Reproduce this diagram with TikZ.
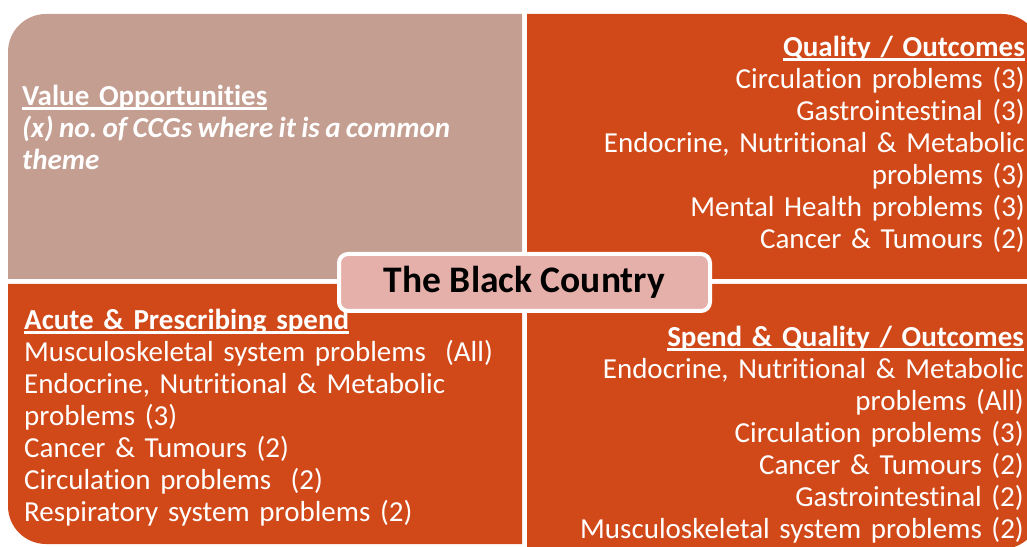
\documentclass[tikz,border=0pt]{standalone}
\usepackage{fontspec}
\setmainfont{Carlito}[Ligatures=CommonOff]
\usepackage{tikz}
\frenchspacing
\definecolor{valuebrown}{RGB}{196,158,145}
\definecolor{spendorange}{RGB}{209,73,25}
\definecolor{hubpink}{RGB}{230,176,170}
\newcommand{\ulhead}[1]{\setbox0\hbox{\bfseries #1}\rlap{\rule[-4pt]{\wd0}{2.5pt}}\box0}
\newcommand{\quadfont}{\fontsize{29}{32}\selectfont}
\tikzset{quadtext/.style={text=white, inner sep=0pt, font=\quadfont}}
\tikzset{hub/.style={draw=white, line width=4pt, fill=hubpink, rounded corners=9pt,
    minimum width=371pt, minimum height=57pt, inner sep=0pt, font=\fontsize{37.5}{40}\selectfont\bfseries}}

\begin{document}
\begin{tikzpicture}[x=1pt, y=1pt]
    \useasboundingbox (0,0) rectangle (1027,546);
    \clip (0,0) rectangle (1027,546);
    % four quadrants
    \fill[valuebrown] (8,267) -- (8,494) arc(180:90:38) -- (522,532) -- (522,267) -- cycle;
    \fill[spendorange] (527,267) -- (527,532) -- (1002,532) arc(90:0:38) -- (1040,267) -- cycle;
    \fill[spendorange] (522,262) -- (8,262) -- (8,40) arc(180:270:38) -- (522,2) -- cycle;
    \fill[spendorange] (527,262) -- (1040,262) -- (1040,35) arc(0:-90:38) -- (527,-3) -- cycle;
    % quadrant texts
    \node[quadtext, anchor=base west, text width=470pt, align=left] (value) at (22,440)
        {\ulhead{Value Opportunities}\\
         {\bfseries\itshape\spaceskip=5.4pt\relax (x) no. of CCGs where it is a common}\\
         \textbf{\textit{theme}}};
    \node[quadtext, anchor=base east, text width=470pt, align=right] (quality) at (1025,489)
        {\ulhead{Quality / Outcomes}\\
         Circulation problems (3)\\
         Gastrointestinal (3)\\
         Endocrine, Nutritional \& Metabolic\\
         problems (3)\\
         Mental Health problems (3)\\
         Cancer \& Tumours (2)};
    \node[quadtext, anchor=base west, text width=490pt, align=left] (spend) at (24,216)
        {\ulhead{Acute \& Prescribing spend}\\
         Musculoskeletal system problems\ \ (All)\\
         Endocrine, Nutritional \& Metabolic\\
         problems (3)\\
         Cancer \& Tumours (2)\\
         Circulation problems\ \ (2)\\
         Respiratory system problems (2)};
    \node[quadtext, anchor=base east, text width=470pt, align=right] (spendquality) at (1024,199)
        {\ulhead{Spend \& Quality / Outcomes}\\
         Endocrine, Nutritional \& Metabolic\\
         problems (All)\\
         Circulation problems (3)\\
         Cancer \& Tumours (2)\\
         Gastrointestinal (2)\\
         Musculoskeletal system problems (2)};
    % centre label
    \node[hub] (region) at (524.5,263.5) {The Black Country};
\end{tikzpicture}
\end{document}
